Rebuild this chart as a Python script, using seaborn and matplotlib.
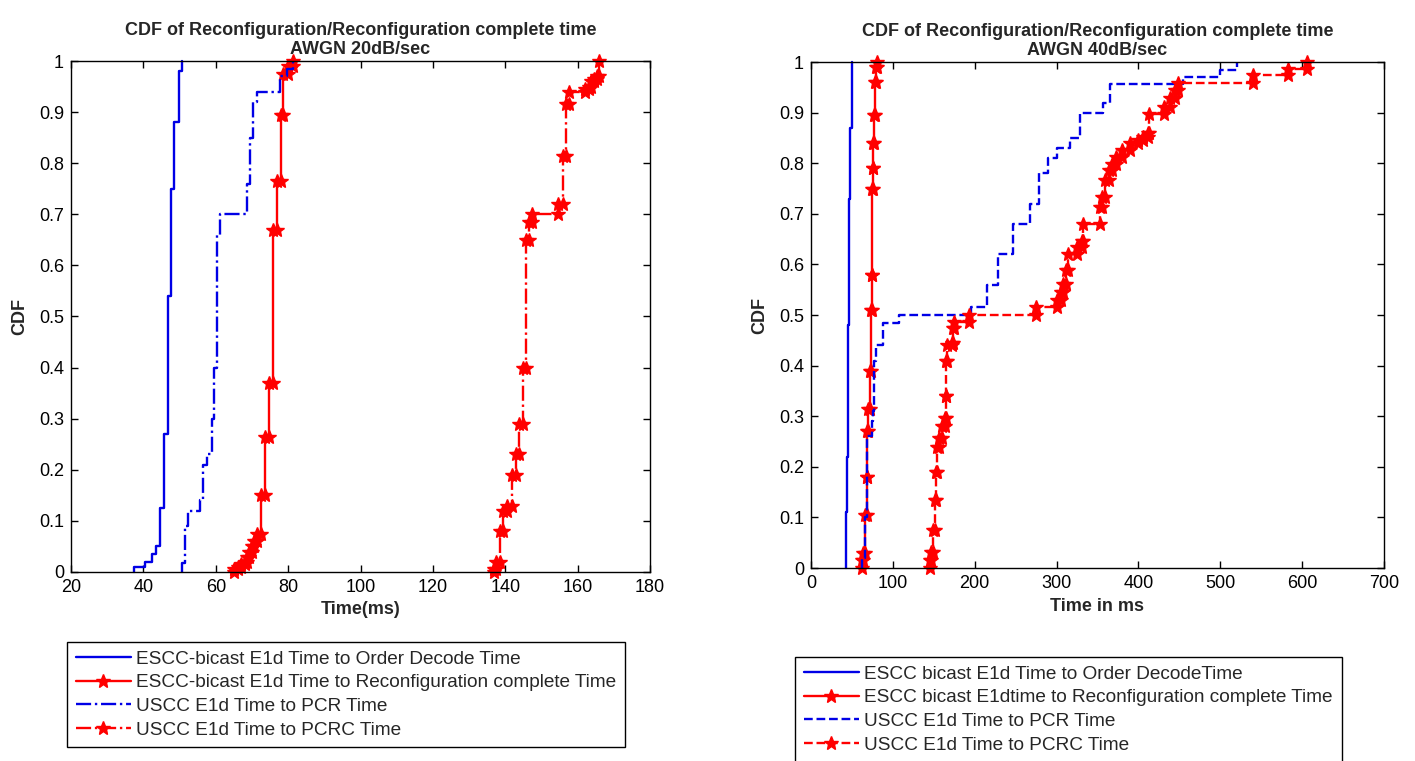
import numpy as np
import matplotlib
matplotlib.use('Agg')
import matplotlib.pyplot as plt
import seaborn as sns

sns.set_style('ticks')
plt.rcParams['font.family'] = ['Liberation Sans', 'DejaVu Sans']

# ---------- AWGN 20dB/sec : step positions (ms) and CDF value after each step
od20_t = [37.5, 40.5, 42.3, 43.6, 44.6, 45.6, 46.8, 47.5, 48.5, 49.7, 50.6]
od20_p = [0.01, 0.02, 0.035, 0.05, 0.125, 0.27, 0.54, 0.75, 0.88, 0.98, 1.0]

rc20_t = [65.0, 66.0, 67.0, 68.0, 68.6, 69.3, 70.0, 70.6, 71.4, 72.5, 73.6,
          74.8, 75.8, 76.9, 77.9, 78.6, 80.0, 81.4]
rc20_p = [0.005, 0.01, 0.015, 0.02, 0.03, 0.04, 0.05, 0.06, 0.075, 0.15,
          0.265, 0.37, 0.67, 0.765, 0.895, 0.975, 0.99, 1.0]

pcr20_t = [50.8, 51.6, 52.4, 55.5, 56.6, 57.6, 58.9, 59.6, 60.3, 61.2, 68.5,
           69.5, 70.4, 71.3, 77.8, 79.6, 81.4]
pcr20_p = [0.017, 0.09, 0.12, 0.14, 0.21, 0.23, 0.30, 0.40, 0.66, 0.70, 0.76,
           0.85, 0.92, 0.94, 0.97, 0.985, 1.0]

pcrc20_t = [137.0, 137.3, 138.4, 139.3, 140.5, 141.8, 143.0, 143.9, 144.8,
            145.8, 146.5, 147.3, 154.5, 155.9, 156.8, 157.7, 162.0, 163.0,
            163.8, 164.6, 165.4, 165.9]
pcrc20_p = [0.005, 0.02, 0.08, 0.12, 0.13, 0.19, 0.23, 0.29, 0.40, 0.65,
            0.685, 0.70, 0.72, 0.815, 0.915, 0.94, 0.945, 0.95, 0.96, 0.965,
            0.97, 1.0]

# ---------- AWGN 40dB/sec
od40_t = [42.8, 44.0, 45.5, 46.5, 47.6, 49.6]
od40_p = [0.11, 0.22, 0.48, 0.73, 0.87, 1.0]

rc40_t = [62.0, 64.0, 66.0, 68.0, 68.5, 70.0, 72.0, 73.0, 74.1, 75.0, 75.7,
          76.3, 77.0, 78.5, 80.0, 81.0]
rc40_p = [0.015, 0.03, 0.105, 0.18, 0.27, 0.315, 0.39, 0.51, 0.58, 0.75, 0.79,
          0.84, 0.895, 0.96, 0.99, 1.0]

pcr40_t = [62.0, 66.0, 68.0, 74.0, 76.0, 77.0, 80.0, 88.0, 107.0, 196.0,
           215.0, 229.0, 247.0, 267.5, 279.0, 290.0, 300.0, 316.0, 329.0,
           357.0, 365.0, 455.0, 500.0, 520.0]
pcr40_p = [0.02, 0.10, 0.26, 0.29, 0.31, 0.41, 0.44, 0.485, 0.50, 0.515, 0.56,
           0.62, 0.68, 0.72, 0.78, 0.81, 0.83, 0.85, 0.90, 0.92, 0.957, 0.97,
           0.985, 1.0]

pcrc40_t = [146.0, 147.0, 149.5, 151.5, 152.7, 154.0, 156.8, 160.0, 163.7,
            165.0, 165.5, 166.0, 172.6, 174.0, 175.0, 193.4, 274.9, 300.0,
            305.0, 308.0, 312.0, 314.4, 324.6, 330.7, 332.7, 353.0, 355.0,
            359.0, 364.0, 368.0, 373.0, 380.0, 390.0, 400.0, 406.0, 412.0,
            412.5, 431.0, 438.6, 444.7, 448.8, 540.0, 583.0, 605.6]
pcrc40_p = [0.016, 0.032, 0.075, 0.134, 0.19, 0.24, 0.256, 0.28, 0.296, 0.34,
            0.41, 0.44, 0.445, 0.475, 0.487, 0.5, 0.516, 0.53, 0.545, 0.562,
            0.589, 0.621, 0.634, 0.647, 0.68, 0.713, 0.733, 0.766, 0.786,
            0.799, 0.812, 0.826, 0.839, 0.846, 0.852, 0.859, 0.898, 0.912,
            0.928, 0.945, 0.958, 0.974, 0.987, 1.0]

labels20 = ['ESCC-bicast E1d Time to Order Decode Time',
            'ESCC-bicast E1d Time to Reconfiguration complete Time',
            'USCC E1d Time to PCR Time',
            'USCC E1d Time to PCRC Time']
labels40 = ['ESCC bicast E1d Time to Order DecodeTime',
            'ESCC bicast E1dtime to Reconfiguration complete Time',
            'USCC E1d Time to PCR Time',
            'USCC E1d Time to PCRC Time']

BLUE = '#0000e6'
RED = '#ff0000'


# turn step positions / cdf levels into stair vertices (like matlab stairs)
def stairs(t, p):
    xs, ys = [t[0]], [0.0]
    for i in range(len(t)):
        if i > 0:
            xs.append(t[i])
            ys.append(p[i - 1])
        xs.append(t[i])
        ys.append(p[i])
    return xs, ys


def draw_cdf(ax, t, p, color, ls, label, marker=None):
    xs, ys = stairs(t, p)
    kw = dict(color=color, linestyle=ls, linewidth=1.7, clip_on=False)
    if marker:
        kw.update(marker=marker, markersize=10, markerfacecolor=RED,
                  markeredgecolor=RED, markeredgewidth=1)
    sns.lineplot(x=xs, y=ys, sort=False, estimator=None, ax=ax,
                 label=label, **kw)


def style_axes(ax, xlim, xticks, xlabel, title):
    ax.set_xlim(*xlim)
    ax.set_ylim(0, 1)
    ax.set_xticks(xticks)
    ax.set_yticks(np.arange(0, 1.01, 0.1))
    ax.set_yticklabels(['%g' % round(v, 1) for v in np.arange(0, 1.01, 0.1)])
    ax.tick_params(direction='in', top=True, right=True, length=5,
                   width=1, labelsize=13, pad=5, colors='black')
    for s in ax.spines.values():
        s.set_visible(True)
        s.set_linewidth(1)
        s.set_color('black')
    ax.set_xlabel(xlabel, fontsize=13, fontweight='bold', labelpad=4)
    ax.set_ylabel('CDF', fontsize=13, fontweight='bold', labelpad=8)
    ax.set_title(title, fontsize=13, fontweight='bold', pad=5,
                 linespacing=1.15)


fig = plt.figure(figsize=(14.15, 7.61), dpi=100)
ax1 = fig.add_axes([0.0502, 0.2484, 0.4092, 0.6714])
ax2 = fig.add_axes([0.5731, 0.2536, 0.4050, 0.6649])

draw_cdf(ax1, od20_t, od20_p, BLUE, '-', labels20[0])
draw_cdf(ax1, rc20_t, rc20_p, RED, '-', labels20[1], marker='*')
draw_cdf(ax1, pcr20_t, pcr20_p, BLUE, '-.', labels20[2])
draw_cdf(ax1, pcrc20_t, pcrc20_p, RED, '-.', labels20[3], marker='*')
style_axes(ax1, (20, 180), range(20, 181, 20), 'Time(ms)',
           'CDF of Reconfiguration/Reconfiguration complete time\nAWGN 20dB/sec')

draw_cdf(ax2, od40_t, od40_p, BLUE, '-', labels40[0])
draw_cdf(ax2, rc40_t, rc40_p, RED, '-', labels40[1], marker='*')
draw_cdf(ax2, pcr40_t, pcr40_p, BLUE, '--', labels40[2])
draw_cdf(ax2, pcrc40_t, pcrc40_p, RED, '--', labels40[3], marker='*')
style_axes(ax2, (0, 700), range(0, 701, 100), 'Time in ms',
           'CDF of Reconfiguration/Reconfiguration complete time\nAWGN 40dB/sec')

# legends below each plot, in figure coords
for ax, anchor in [(ax1, (67 / 1415, 1 - 642 / 761)),
                   (ax2, (795 / 1415, 1 - 657 / 761))]:
    leg = ax.legend(loc='upper left', bbox_to_anchor=anchor,
                    bbox_transform=fig.transFigure, fontsize=13.7,
                    handlelength=2.9, handletextpad=0.3, labelspacing=0.33,
                    borderpad=0.45, borderaxespad=0, frameon=True,
                    fancybox=False, framealpha=1, numpoints=1)
    leg.get_frame().set_edgecolor('black')
    leg.get_frame().set_linewidth(1)

fig.savefig('out.png', dpi=100)
